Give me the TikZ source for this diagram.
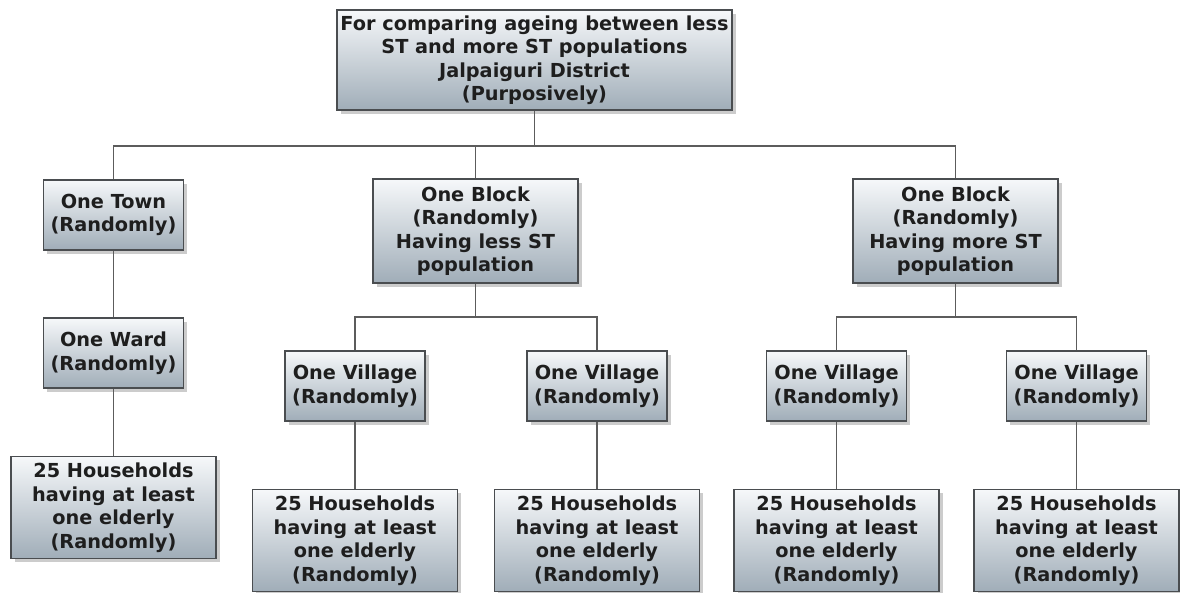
\documentclass[tikz,border=0pt]{standalone}
\usepackage{fontspec}
\setmainfont{DejaVu Sans}
\usetikzlibrary{shadows}
\definecolor{boxtop}{HTML}{F6F8FA}
\definecolor{boxbottom}{HTML}{A0ADB8}
\definecolor{boxline}{HTML}{4A4D50}
\definecolor{linkgray}{HTML}{5C5C5C}
\definecolor{boxtext}{HTML}{1E1E1E}

\begin{document}
\begin{tikzpicture}[
    x = 1pt, y = -1pt,
    %scale = 1,
    box/.style = {draw = boxline, line width = 1.2pt,
      top color = boxtop, bottom color = boxbottom,
      drop shadow = {shadow xshift = 3.5pt, shadow yshift = -3.5pt, opacity = 0.4},
      align = center, text = boxtext, inner sep = 0pt,
      font = \bfseries\fontsize{19.3}{23.5}\selectfont},
    rootbox/.style = {box, minimum width = 395pt, minimum height = 100pt},
    smallbox/.style = {box, minimum width = 140pt, minimum height = 70pt},
    blockbox/.style = {box, minimum width = 205pt, minimum height = 104pt},
    hhbox/.style = {box, minimum width = 205pt, minimum height = 102pt},
    link/.style = {draw = linkgray, line width = 1.8pt}
  ]
  \useasboundingbox (0,0) rectangle (1180,592);

  \node[rootbox] (eps) at (534.5,60) {For comparing ageing between less\\ST and more ST populations\\Jalpaiguri District\\(Purposively)};

  \node[smallbox] (0) at (113.5,215) {One Town\\(Randomly)};
  \node[smallbox] (00) at (113.5,353) {One Ward\\(Randomly)};
  \node[hhbox] (000) at (113.5,507.5) {25 Households\\having at least\\one elderly\\(Randomly)};

  \node[blockbox] (1) at (475.5,231) {One Block\\(Randomly)\\Having less ST\\population};
  \node[smallbox] (10) at (355,386) {One Village\\(Randomly)};
  \node[smallbox] (11) at (597,386) {One Village\\(Randomly)};
  \node[hhbox] (100) at (355,540.5) {25 Households\\having at least\\one elderly\\(Randomly)};
  \node[hhbox] (110) at (597,540.5) {25 Households\\having at least\\one elderly\\(Randomly)};

  \node[blockbox] (2) at (955.5,231) {One Block\\(Randomly)\\Having more ST\\population};
  \node[smallbox] (20) at (836.5,386) {One Village\\(Randomly)};
  \node[smallbox] (21) at (1076.5,386) {One Village\\(Randomly)};
  \node[hhbox] (200) at (836.5,540.5) {25 Households\\having at least\\one elderly\\(Randomly)};
  \node[hhbox] (210) at (1076.5,540.5) {25 Households\\having at least\\one elderly\\(Randomly)};

  % Links
  \draw[link] (eps.south) -- ++(0,35) -| (0.north);
  \draw[link] (eps.south) -- ++(0,35) -| (1.north);
  \draw[link] (eps.south) -- ++(0,35) -| (2.north);
  \draw[link] (0) -- (00);
  \draw[link] (00) -- (000);
  \draw[link] (1.south) -- ++(0,33) -| (10.north);
  \draw[link] (1.south) -- ++(0,33) -| (11.north);
  \draw[link] (2.south) -- ++(0,33) -| (20.north);
  \draw[link] (2.south) -- ++(0,33) -| (21.north);
  \draw[link] (10) -- (100);
  \draw[link] (11) -- (110);
  \draw[link] (20) -- (200);
  \draw[link] (21) -- (210);
\end{tikzpicture}
\end{document}
